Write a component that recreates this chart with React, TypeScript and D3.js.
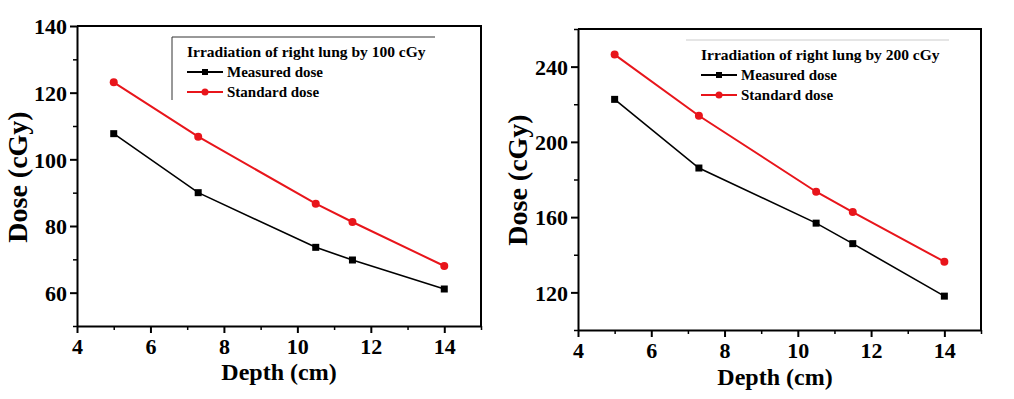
import { useEffect, useRef } from "react";
import * as d3 from "d3";

// depth values (cm), shared by both panels
const depth = [5, 7.3, 10.5, 11.5, 14];

// 100 cGy panel
const measured100 = [107.7, 90, 73.6, 69.8, 61.1];
const standard100 = [123.1, 106.8, 86.7, 81.2, 68.0];

// 200 cGy panel
const measured200 = [222.6, 186.1, 156.8, 145.9, 118];
const standard200 = [246.4, 213.9, 173.5, 162.7, 136.3];

const xTicks = [4, 6, 8, 10, 12, 14];
const xMinor = [5, 7, 9, 11, 13, 15];
const yTicks100 = [60, 80, 100, 120, 140];
const yMinor100 = [50, 70, 90, 110, 130];
const yTicks200 = [120, 160, 200, 240];
const yMinor200 = [100, 140, 180, 220, 260];

const FONT = "Liberation Serif";

interface PanelProps {
  left: number;
  right: number;
  top: number;
  bottom: number;
  yDomain: [number, number];
  yTicks: number[];
  yMinor: number[];
  measured: number[];
  standard: number[];
  title: string;
  legendX: number;
  legendLineColor: string;
  legendLeftLine: boolean;
  xLabelY: number;
  xTitleY: number;
  xTitleX: number;
  yTitleX: number;
  yTitleY: number;
}

const txt = (sel: any, size: number) =>
  sel
    .attr("fill", "#000")
    .attr("font-family", FONT)
    .attr("font-weight", "bold")
    .attr("font-size", size);

const Panel = (p: PanelProps) => {
  const gRef = useRef<SVGGElement>(null);

  useEffect(() => {
    if (!gRef.current) return;
    const g = d3.select(gRef.current);
    g.selectAll("*").remove();

    const x = d3.scaleLinear().domain([4, 15]).range([p.left, p.right]);
    const y = d3.scaleLinear().domain(p.yDomain).range([p.bottom, p.top]);

    // frame (top & right)
    g.append("path")
      .attr("d", `M${p.left},${p.top}H${p.right}V${p.bottom}`)
      .attr("fill", "none")
      .attr("stroke", "#000")
      .attr("stroke-width", 2);

    // minor ticks
    const xMin = g
      .append("g")
      .attr("transform", `translate(0,${p.bottom})`)
      .call(d3.axisBottom(x).tickValues(xMinor).tickSize(4).tickFormat(() => ""));
    const yMin = g
      .append("g")
      .attr("transform", `translate(${p.left},0)`)
      .call(d3.axisLeft(y).tickValues(p.yMinor).tickSize(4).tickFormat(() => ""));
    [xMin, yMin].forEach((a) => {
      a.select(".domain").remove();
      a.selectAll("line").attr("stroke-width", 1.5);
    });

    // major axes
    const xAxis = g
      .append("g")
      .attr("transform", `translate(0,${p.bottom})`)
      .call(d3.axisBottom(x).tickValues(xTicks).tickSize(7).tickSizeOuter(0));
    xAxis
      .selectAll("text")
      .attr("y", p.xLabelY - p.bottom)
      .attr("dy", null)
      .call(txt, 22);

    const yAxis = g
      .append("g")
      .attr("transform", `translate(${p.left},0)`)
      .call(d3.axisLeft(y).tickValues(p.yTicks).tickSize(7).tickSizeOuter(0));
    yAxis
      .selectAll("text")
      .attr("x", -10)
      .attr("dy", "0.35em")
      .call(txt, 22);

    [xAxis, yAxis].forEach((a) => {
      a.select(".domain").attr("stroke-width", 2);
      a.selectAll("line").attr("stroke-width", 2);
    });

    // series
    const series = [
      { values: p.measured, color: "#000", shape: "square", width: 1.6 },
      { values: p.standard, color: "#e8151b", shape: "circle", width: 2 },
    ];
    const line = d3
      .line<number>()
      .x((_, i) => x(depth[i]))
      .y((d) => y(d));

    series.forEach((s) => {
      g.append("path")
        .attr("d", line(s.values))
        .attr("fill", "none")
        .attr("stroke", s.color)
        .attr("stroke-width", s.width);
      s.values.forEach((v, i) => {
        if (s.shape === "square") {
          g.append("rect")
            .attr("x", x(depth[i]) - 3.5)
            .attr("y", y(v) - 3.5)
            .attr("width", 7)
            .attr("height", 7)
            .attr("fill", s.color);
        } else {
          g.append("circle")
            .attr("cx", x(depth[i]))
            .attr("cy", y(v))
            .attr("r", 4)
            .attr("fill", s.color);
        }
      });
    });

    // legend
    const lx = p.legendX;
    const ly = p.top + 11;
    g.append("line")
      .attr("x1", lx - 15)
      .attr("x2", lx + 248)
      .attr("y1", ly)
      .attr("y2", ly)
      .attr("stroke", p.legendLineColor)
      .attr("stroke-width", 1);
    if (p.legendLeftLine) {
      g.append("line")
        .attr("x1", lx - 15)
        .attr("x2", lx - 15)
        .attr("y1", ly)
        .attr("y2", ly + 63)
        .attr("stroke", p.legendLineColor)
        .attr("stroke-width", 1);
    }
    g.append("text")
      .attr("x", lx)
      .attr("y", ly + 20)
      .text(p.title)
      .call(txt, 15.5);
    const labels = ["Measured dose", "Standard dose"];
    series.forEach((s, i) => {
      const yy = ly + 35 + i * 20;
      g.append("line")
        .attr("x1", lx)
        .attr("x2", lx + 36)
        .attr("y1", yy)
        .attr("y2", yy)
        .attr("stroke", s.color)
        .attr("stroke-width", 2);
      if (s.shape === "square") {
        g.append("rect")
          .attr("x", lx + 18 - 3)
          .attr("y", yy - 3)
          .attr("width", 6)
          .attr("height", 6)
          .attr("fill", s.color);
      } else {
        g.append("circle").attr("cx", lx + 18).attr("cy", yy).attr("r", 3.5).attr("fill", s.color);
      }
      g.append("text")
        .attr("x", lx + 40)
        .attr("y", yy + 5)
        .text(labels[i])
        .call(txt, 15);
    });

    // axis titles
    g.append("text")
      .attr("x", p.xTitleX)
      .attr("y", p.xTitleY)
      .attr("text-anchor", "middle")
      .text("Depth (cm)")
      .call(txt, 24);
    g.append("text")
      .attr("transform", `translate(${p.yTitleX},${p.yTitleY}) rotate(-90)`)
      .attr("text-anchor", "middle")
      .text("Dose (cGy)")
      .call(txt, 28);
  }, []);

  return <g ref={gRef} />;
};

const App = () => {
  return (
    <svg
      width={1014}
      height={399}
      style={{ position: "absolute", left: 0, top: 0, background: "#fff" }}
    >
      <Panel
        left={77}
        right={481}
        top={26}
        bottom={326}
        yDomain={[50, 140]}
        yTicks={yTicks100}
        yMinor={yMinor100}
        measured={measured100}
        standard={standard100}
        title="Irradiation of right lung by 100 cGy"
        legendX={187}
        legendLineColor="#333"
        legendLeftLine={true}
        xLabelY={354}
        xTitleY={380}
        xTitleX={279}
        yTitleX={27}
        yTitleY={177}
      />
      <Panel
        left={578}
        right={981}
        top={29}
        bottom={330}
        yDomain={[100, 260]}
        yTicks={yTicks200}
        yMinor={yMinor200}
        measured={measured200}
        standard={standard200}
        title="Irradiation of right lung by 200 cGy"
        legendX={701}
        legendLineColor="#ccc"
        legendLeftLine={false}
        xLabelY={358}
        xTitleY={385}
        xTitleX={775}
        yTitleX={527}
        yTitleY={180}
      />
    </svg>
  );
};

export default App;
